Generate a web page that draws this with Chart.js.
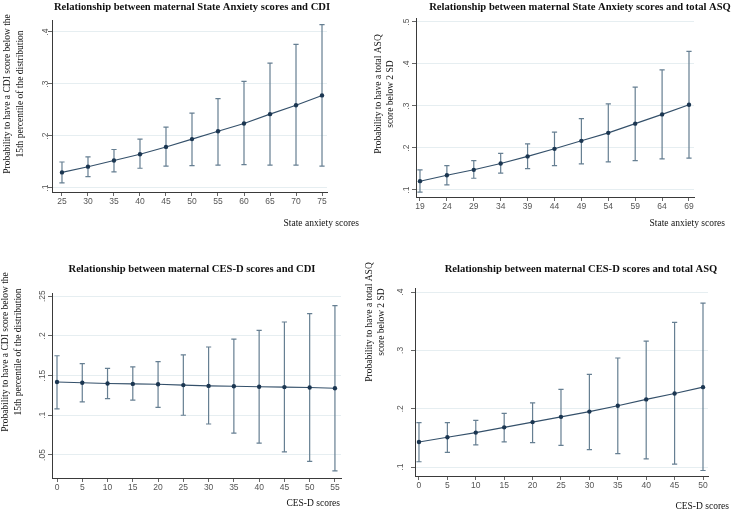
<!DOCTYPE html>
<html>
<head>
<meta charset="utf-8">
<script src="https://cdn.jsdelivr.net/npm/chart.js@4/dist/chart.umd.min.js"></script>
<style>
  html, body { margin: 0; padding: 0; background: #ffffff; }
  #wrap { position: relative; width: 733px; height: 510px; overflow: hidden; background: #ffffff; }
  #wrap canvas { position: absolute; left: 0; top: 0; }
</style>
</head>
<body>
<div id="wrap">
  <canvas id="c1" width="733" height="510"></canvas>
  <canvas id="c2" width="733" height="510"></canvas>
  <canvas id="c3" width="733" height="510"></canvas>
  <canvas id="c4" width="733" height="510"></canvas>
</div>
<script>
// ---------- DATA ----------
// Panel 1: State Anxiety vs CDI
const anxCdiScores = [25, 30, 35, 40, 45, 50, 55, 60, 65, 70, 75];
const anxCdiProb   = [0.130, 0.141, 0.153, 0.165, 0.179, 0.194, 0.209, 0.224, 0.242, 0.259, 0.278];
const anxCdiLower  = [0.110, 0.122, 0.131, 0.138, 0.142, 0.143, 0.144, 0.145, 0.144, 0.144, 0.142];
const anxCdiUpper  = [0.150, 0.160, 0.174, 0.194, 0.217, 0.244, 0.272, 0.305, 0.340, 0.376, 0.414];
const anxCdiYTicks = [0.1, 0.2, 0.3, 0.4];

// Panel 2: State Anxiety vs total ASQ
const anxAsqScores = [19, 24, 29, 34, 39, 44, 49, 54, 59, 64, 69];
const anxAsqProb   = [0.121, 0.135, 0.148, 0.163, 0.180, 0.198, 0.217, 0.236, 0.258, 0.280, 0.303];
const anxAsqLower  = [0.095, 0.112, 0.128, 0.140, 0.151, 0.158, 0.162, 0.167, 0.170, 0.174, 0.176];
const anxAsqUpper  = [0.148, 0.158, 0.170, 0.187, 0.210, 0.238, 0.270, 0.305, 0.345, 0.386, 0.430];
const anxAsqYTicks = [0.1, 0.2, 0.3, 0.4, 0.5];

// Panel 3: CES-D vs CDI
const cesCdiScores = [0, 5, 10, 15, 20, 25, 30, 35, 40, 45, 50, 55];
const cesCdiProb   = [0.142, 0.141, 0.140, 0.1395, 0.139, 0.138, 0.137, 0.1365, 0.136, 0.1355, 0.135, 0.134];
const cesCdiLower  = [0.108, 0.117, 0.121, 0.119, 0.110, 0.100, 0.089, 0.0775, 0.065, 0.054, 0.042, 0.030];
const cesCdiUpper  = [0.175, 0.165, 0.159, 0.161, 0.1675, 0.176, 0.186, 0.196, 0.207, 0.2175, 0.228, 0.238];
const cesCdiYTicks = [0.05, 0.1, 0.15, 0.2, 0.25];

// Panel 4: CES-D vs total ASQ
const cesAsqScores = [0, 5, 10, 15, 20, 25, 30, 35, 40, 45, 50];
const cesAsqProb   = [0.143, 0.151, 0.159, 0.168, 0.177, 0.186, 0.195, 0.205, 0.216, 0.226, 0.237];
const cesAsqLower  = [0.109, 0.125, 0.138, 0.143, 0.142, 0.137, 0.130, 0.123, 0.114, 0.105, 0.094];
const cesAsqUpper  = [0.176, 0.176, 0.180, 0.192, 0.210, 0.233, 0.259, 0.287, 0.316, 0.348, 0.381];
const cesAsqYTicks = [0.1, 0.2, 0.3, 0.4];

// ---------- STYLE / LAYOUT ----------
const W = 733, H = 510;
const X_AXIS_BOX = 22;
const LINE_COLOR = '#34506a';
const POINT_COLOR = '#1b3651';
const BAR_COLOR = '#667f92';
const TICK_FONT = '8.5px "Liberation Sans", Arial, sans-serif';
const TITLE_FONT = 'bold 10.6px "Liberation Serif", "Times New Roman", serif';
const AXTITLE_FONT = '9.5px "Liberation Serif", "Times New Roman", serif';

function fmtTick(v) {
  return String(+v.toFixed(4)).replace(/^0\./, '.');
}

const decorPlugin = {
  id: 'stataDecor',
  beforeDatasetsDraw(chart, args, o) {
    const ctx = chart.ctx, xs = chart.scales.x, ys = chart.scales.y;
    ctx.save();
    ctx.strokeStyle = BAR_COLOR;
    ctx.lineWidth = 1.2;
    const cap = 2.6;
    o.scores.forEach((s, i) => {
      const px = xs.getPixelForValue(s);
      const pl = ys.getPixelForValue(o.lower[i]);
      const pu = ys.getPixelForValue(o.upper[i]);
      ctx.beginPath();
      ctx.moveTo(px, pl); ctx.lineTo(px, pu);
      ctx.moveTo(px - cap, pl); ctx.lineTo(px + cap, pl);
      ctx.moveTo(px - cap, pu); ctx.lineTo(px + cap, pu);
      ctx.stroke();
    });
    ctx.restore();
  },
  afterDraw(chart, args, o) {
    const ctx = chart.ctx, ys = chart.scales.y;
    ctx.save();
    // rotated y tick labels
    ctx.fillStyle = '#555';
    ctx.font = TICK_FONT;
    ctx.textAlign = 'center';
    ctx.textBaseline = 'middle';
    o.yTicks.forEach(v => {
      const py = ys.getPixelForValue(v);
      ctx.save();
      ctx.translate(o.yTickX, py);
      ctx.rotate(-Math.PI / 2);
      ctx.fillText(fmtTick(v), 0, 0);
      ctx.restore();
    });
    // title
    ctx.fillStyle = '#111';
    ctx.font = TITLE_FONT;
    ctx.textAlign = 'center';
    ctx.fillText(o.title, o.titleX, o.titleY);
    // x title
    ctx.font = AXTITLE_FONT;
    ctx.textAlign = 'right';
    ctx.fillText(o.xTitle, o.xTitleX, o.xTitleY);
    // y title (rotated, two lines)
    ctx.textAlign = 'center';
    o.yTitle.forEach((line, k) => {
      ctx.save();
      ctx.translate(o.yTitleX[k], o.yTitleY);
      ctx.rotate(-Math.PI / 2);
      ctx.fillText(line, 0, 0);
      ctx.restore();
    });
    ctx.restore();
  }
};

function makeChart(id, cfg) {
  new Chart(document.getElementById(id), {
    type: 'line',
    data: {
      datasets: [{
        data: cfg.scores.map((s, i) => ({ x: s, y: cfg.prob[i] })),
        borderColor: LINE_COLOR,
        borderWidth: 1.1,
        pointRadius: 2.2,
        pointStyle: 'circle',
        pointBackgroundColor: POINT_COLOR,
        pointBorderColor: POINT_COLOR,
        pointBorderWidth: 0,
        tension: 0,
        fill: false
      }]
    },
    options: {
      responsive: false,
      animation: false,
      devicePixelRatio: 1,
      layout: { padding: { left: cfg.area.l, top: cfg.area.t, right: W - cfg.area.r, bottom: H - cfg.area.b - X_AXIS_BOX } },
      plugins: {
        legend: { display: false },
        tooltip: { enabled: false },
        title: { display: false },
        stataDecor: cfg
      },
      scales: {
        x: {
          type: 'linear',
          min: cfg.xMin, max: cfg.xMax,
          afterBuildTicks: s => { s.ticks = cfg.scores.map(v => ({ value: v })); },
          afterFit: s => { s.height = X_AXIS_BOX; },
          ticks: {
            autoSkip: false, maxRotation: 0, minRotation: 0,
            font: { family: '"Liberation Sans", Arial, sans-serif', size: 8.5 },
            color: '#555', padding: 1,
            callback: v => String(v)
          },
          grid: { drawOnChartArea: false, drawTicks: true, tickLength: 4, tickColor: '#666', tickWidth: 1 },
          border: { display: true, color: '#3a3a3a', width: 1 }
        },
        y: {
          type: 'linear',
          min: cfg.yMin, max: cfg.yMax,
          afterBuildTicks: s => { s.ticks = cfg.yTicks.map(v => ({ value: v })); },
          afterFit: s => { s.width = 0; },
          ticks: { display: false },
          grid: { color: '#e6eef1', lineWidth: 1, drawTicks: true, tickLength: 4, tickColor: '#666', tickWidth: 1 },
          border: { display: true, color: '#3a3a3a', width: 1 }
        }
      }
    },
    plugins: [decorPlugin]
  });
}

makeChart('c1', {
  scores: anxCdiScores, prob: anxCdiProb, lower: anxCdiLower, upper: anxCdiUpper, yTicks: anxCdiYTicks,
  area: { l: 52, r: 327, t: 20, b: 192 },
  xMin: 23.08, xMax: 75.96, yMin: 0.0923, yMax: 0.423,
  yTickX: 46,
  title: 'Relationship between maternal State Anxiety scores and CDI', titleX: 192, titleY: 7,
  xTitle: 'State anxiety scores', xTitleX: 359, xTitleY: 223,
  yTitle: ['Probability to have a CDI score below the', '15th percentile of the distribution'],
  yTitleX: [7, 20], yTitleY: 94
});

makeChart('c2', {
  scores: anxAsqScores, prob: anxAsqProb, lower: anxAsqLower, upper: anxAsqUpper, yTicks: anxAsqYTicks,
  area: { l: 416, r: 694, t: 18, b: 197 },
  xMin: 18.26, xMax: 69.93, yMin: 0.0833, yMax: 0.5095,
  yTickX: 407,
  title: 'Relationship between maternal State Anxiety scores and total ASQ', titleX: 580, titleY: 7,
  xTitle: 'State anxiety scores', xTitleX: 725, xTitleY: 223,
  yTitle: ['Probability to have a total ASQ', 'score below 2 SD'],
  yTitleX: [378, 390], yTitleY: 94
});

makeChart('c3', {
  scores: cesCdiScores, prob: cesCdiProb, lower: cesCdiLower, upper: cesCdiUpper, yTicks: cesCdiYTicks,
  area: { l: 52, r: 341, t: 293, b: 478 },
  xMin: -0.99, xMax: 56.2, yMin: 0.021, yMax: 0.254,
  yTickX: 43,
  title: 'Relationship between maternal CES-D scores and CDI', titleX: 192, titleY: 269,
  xTitle: 'CES-D scores', xTitleX: 340, xTitleY: 503,
  yTitle: ['Probability to have a CDI score below the', '15th percentile of the distribution'],
  yTitleX: [5, 18], yTitleY: 352
});

makeChart('c4', {
  scores: cesAsqScores, prob: cesAsqProb, lower: cesAsqLower, upper: cesAsqUpper, yTicks: cesAsqYTicks,
  area: { l: 415, r: 708, t: 288, b: 476 },
  xMin: -0.70, xMax: 50.88, yMin: 0.0846, yMax: 0.407,
  yTickX: 401,
  title: 'Relationship between maternal CES-D scores and total ASQ', titleX: 581, titleY: 269,
  xTitle: 'CES-D scores', xTitleX: 729, xTitleY: 506,
  yTitle: ['Probability to have a total ASQ', 'score below 2 SD'],
  yTitleX: [369, 381], yTitleY: 322
});
</script>
</body>
</html>
